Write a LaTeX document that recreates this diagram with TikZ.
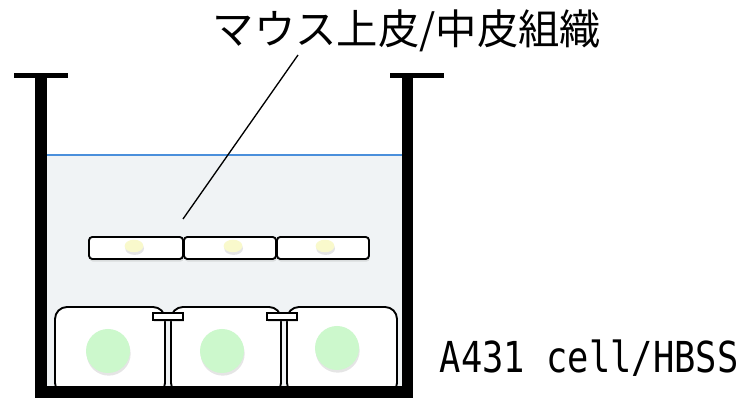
\documentclass[tikz,border=0pt]{standalone}
\usepackage{fontspec}
\newfontfamily\jpfont{Noto Sans CJK JP}
\newfontfamily\monofont{DejaVu Sans Mono}
\usetikzlibrary{shadows}

\definecolor{medium}{HTML}{F0F3F5}
\definecolor{surface}{HTML}{4A8FDB}
\definecolor{nucleus}{HTML}{CCF8CC}
\definecolor{yolk}{HTML}{F9F9CC}

\tikzset{
  wall/.style={fill=black},
  cell/.style={draw=black, line width=1.4pt, fill=white, rounded corners=9pt},
  junction/.style={draw=black, line width=1.3pt, fill=white,
    drop shadow={opacity=0.2, shadow xshift=0.5pt, shadow yshift=-1.5pt}},
  sheet/.style={draw=black, line width=1.4pt, fill=white, rounded corners=2.5pt,
    drop shadow={opacity=0.2, shadow xshift=0.5pt, shadow yshift=-2pt}},
  soft/.style={drop shadow={opacity=0.2, shadow xshift=0.5pt, shadow yshift=-2pt}},
}

\begin{document}
\begin{tikzpicture}[x=0.75pt, y=-0.75pt]

\useasboundingbox (0,0) rectangle (740,398);

% medium inside the well
\fill [medium] (47,155) rectangle (402,386);
\draw [surface, line width=1.2pt] (47,155) -- (402,155);

% A431 cell layer on the bottom
\foreach \xa/\xb in {55/165, 171/281, 287/397}
  \draw [cell] (\xa,307) rectangle (\xb,395);

% tight junctions between the cells
\foreach \xa in {153, 267}
  \draw [junction] (\xa,313) rectangle ++(30,7);

% nuclei
\foreach \cx/\cy in {108/351, 222/351, 337/348}
  \fill [nucleus, soft] (\cx,\cy) circle (16.5pt);

% epithelium/mesothelium sheet floating in the medium
\foreach \xa/\xb in {89/183, 184/276, 277/369}
  \draw [sheet] (\xa,237) rectangle (\xb,259);
\foreach \cx in {134, 233, 325}
  \fill [yolk, soft] (\cx,246) ellipse (7pt and 4.7pt);

% well walls
\fill [wall] (14,73) rectangle (68,78);
\fill [wall] (35,73) rectangle (47,398);
\fill [wall] (390,73) rectangle (444,78);
\fill [wall] (402,73) rectangle (413,398);
\fill [wall] (35,386) rectangle (413,398);

% labels
\node [font=\jpfont\fontsize{31}{36}\selectfont] (tissue) at (407,31) {マウス上皮/中皮組織};
\node [font=\monofont\fontsize{32}{38}\selectfont, xscale=0.83, anchor=base west] (cells) at (436,373) {A431 cell/HBSS};

\coordinate (tip) at (183,219);
\coordinate (lead) at (298,55);
\draw [line width=1pt] (tip) -- (lead);

\end{tikzpicture}
\end{document}
